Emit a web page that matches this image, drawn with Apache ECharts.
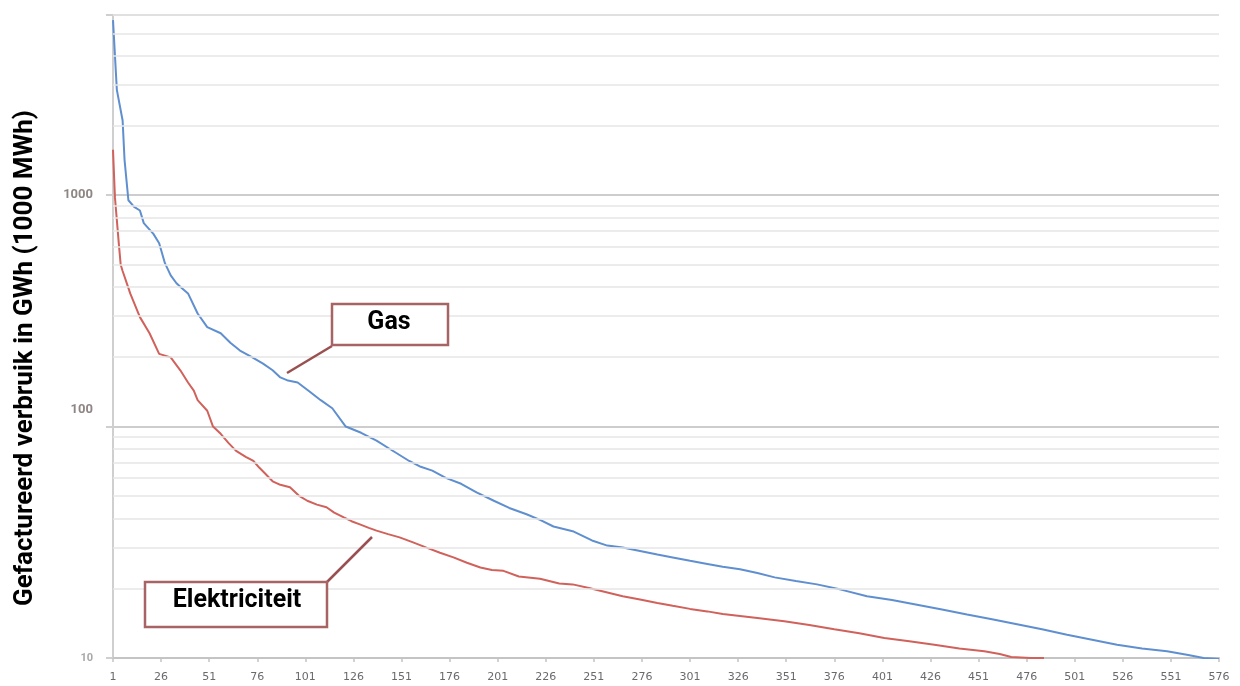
<!DOCTYPE html>
<html><head><meta charset="utf-8">
<script src="https://cdn.jsdelivr.net/npm/echarts@6/dist/echarts.min.js"></script>
<style>html,body{margin:0;padding:0;background:#fff}#c{width:1240px;height:686px}</style>
</head><body><div id="c"></div>
<script>
// x tick labels every 25 (1..576)
var xLabelStep = 25;
var xCount = 576;
// Gas: [rank, GWh]
var gasN = [1,3,6,7,9,12,15,17,22,25,28,31,34,37,40,45,50,57,62,67,73,79,84,88,92,97,103,109,115,122,130,138,146,155,161,167,174,182,190,199,207,216,223,230,240,250,258,266,275,284,292,301,310,318,327,336,345,356,367,380,393,406,419,432,445,458,471,484,497,510,523,536,549,560,568,576];
var gasV = [5700,2850,2100,1420,950,890,858,757,680,620,508,450,416,395,376,308,269,253,230,213,200,187,175,163,158,155,142,130,120,100,94,87,79,71,67,64.5,60,56.6,52,47.8,44.5,41.8,39.5,37,35.3,32.2,30.6,30,29,28,27.2,26.3,25.5,24.8,24.2,23.3,22.3,21.5,20.8,19.7,18.5,17.8,17,16.2,15.4,14.7,14,13.3,12.6,12,11.4,11,10.7,10.3,10,9.9];
// Elektriciteit: [rank, GWh]
var elecN = [1,2,4,5,6,10,15,20,25,31,36,40,43,45,50,53,57,61,65,70,74,77,84,88,93,98,102,107,112,116,121,125,129,134,138,144,150,157,164,171,178,185,192,198,204,212,223,233,240,249,258,266,275,284,292,301,310,318,327,336,350,363,376,389,402,415,428,441,454,462,468,478,485];
var elecV = [1570,980,620,500,470,375,297,253,206,199,175,155,143,130,117,100,93,85,78.5,74,71,66.5,58,56,54.7,50,47.8,46,44.8,42.5,40.5,39,37.9,36.5,35.5,34.3,33.2,31.6,30,28.5,27.2,25.8,24.6,24,23.8,22.5,22,21,20.8,20,19.2,18.5,17.9,17.3,16.8,16.3,15.9,15.5,15.2,14.9,14.4,13.9,13.3,12.8,12.2,11.8,11.4,11,10.7,10.4,10.1,10,10];
// minor grid values on the log axis
var minorGrid = [20,30,40,50,60,70,80,90,200,300,400,500,600,700,800,900,2000,3000,4000,5000,6000];
var yMin = 10, yMax = 6000;
var yTitle = 'Gefactureerd verbruik in GWh (1000 MWh)';

var categories = [];
for (var i = 1; i <= xCount; i++) categories.push(String(i));
function pairs(ns, vs){ return ns.map(function(n,k){ return [String(n), vs[k]]; }); }

var chart = echarts.init(document.getElementById('c'));
var boldFont = 'Roboto,"Liberation Sans",sans-serif';
chart.setOption({
  animation:false,
  grid:{left:113,right:21,top:15,bottom:28,containLabel:false},
  xAxis:{type:'category',data:categories,boundaryGap:false,
    axisLine:{lineStyle:{color:'#c4c4c4',width:2}},
    axisTick:{interval:xLabelStep-1,length:4,lineStyle:{color:'#c4c4c4',width:1.5}},
    axisLabel:{interval:xLabelStep-1,color:'#6a6a6a',fontSize:11,fontFamily:'"DejaVu Sans",sans-serif',margin:14},
    splitLine:{show:false}},
  yAxis:{type:'log',logBase:10,min:yMin,max:yMax,
    axisLine:{show:true,lineStyle:{color:'#cfcfcf',width:2}},
    axisTick:{show:true,length:7,lineStyle:{color:'#cfcfcf',width:2}},
    axisLabel:{margin:20,
      formatter:function(v){ v=Math.round(v);
        if (v===1000) return '{k|1000}';
        if (v===100) return '{h|100}';
        if (v===10) return '{t|10}';
        return ''; },
      rich:{
        k:{color:'#8f8585',fontWeight:'bold',fontSize:13,fontFamily:boldFont},
        h:{color:'#8f8585',fontWeight:'bold',fontSize:13,fontFamily:boldFont,padding:[0,0,34,0]},
        t:{color:'#a8a8a8',fontWeight:'bold',fontSize:11,fontFamily:boldFont,padding:[0,0,0,0]}
      }},
    splitLine:{show:true,lineStyle:{color:'#cdcdcd',width:2}}},
  series:[
    {name:'Gas',type:'line',data:pairs(gasN,gasV),showSymbol:false,
      lineStyle:{color:'#5f8fcf',width:2},itemStyle:{color:'#5f8fcf'},z:3,
      markLine:{silent:true,symbol:'none',label:{show:false},animation:false,
        lineStyle:{color:'#e6e6e6',width:1.5,type:'solid'},
        data:minorGrid.map(function(v){return {yAxis:v};})}},
    {name:'Elektriciteit',type:'line',data:pairs(elecN,elecV),showSymbol:false,
      lineStyle:{color:'#d0615b',width:2},itemStyle:{color:'#d0615b'},z:3}
  ],
  graphic:[
    {type:'text',x:25,y:358,rotation:Math.PI/2,
      style:{text:yTitle,font:'bold 26px '+boldFont,fill:'#000',align:'center',verticalAlign:'middle'},z:11},
    {type:'line',shape:{x1:332,y1:346,x2:287,y2:373},style:{stroke:'#9a5050',lineWidth:2.5},z:10},
    {type:'rect',shape:{x:332,y:304,width:116,height:41},style:{fill:'#fff',stroke:'#a86464',lineWidth:2.5},z:10},
    {type:'text',x:389,y:323,style:{text:'Gas',font:'bold 25px '+boldFont,fill:'#000',align:'center',verticalAlign:'middle'},z:11},
    {type:'line',shape:{x1:327,y1:582,x2:372,y2:537},style:{stroke:'#9a5050',lineWidth:2.5},z:10},
    {type:'rect',shape:{x:145,y:582,width:182,height:45},style:{fill:'#fff',stroke:'#a86464',lineWidth:2.5},z:10},
    {type:'text',x:237,y:601,style:{text:'Elektriciteit',font:'bold 25px '+boldFont,fill:'#000',align:'center',verticalAlign:'middle'},z:11}
  ]
});
</script></body></html>
